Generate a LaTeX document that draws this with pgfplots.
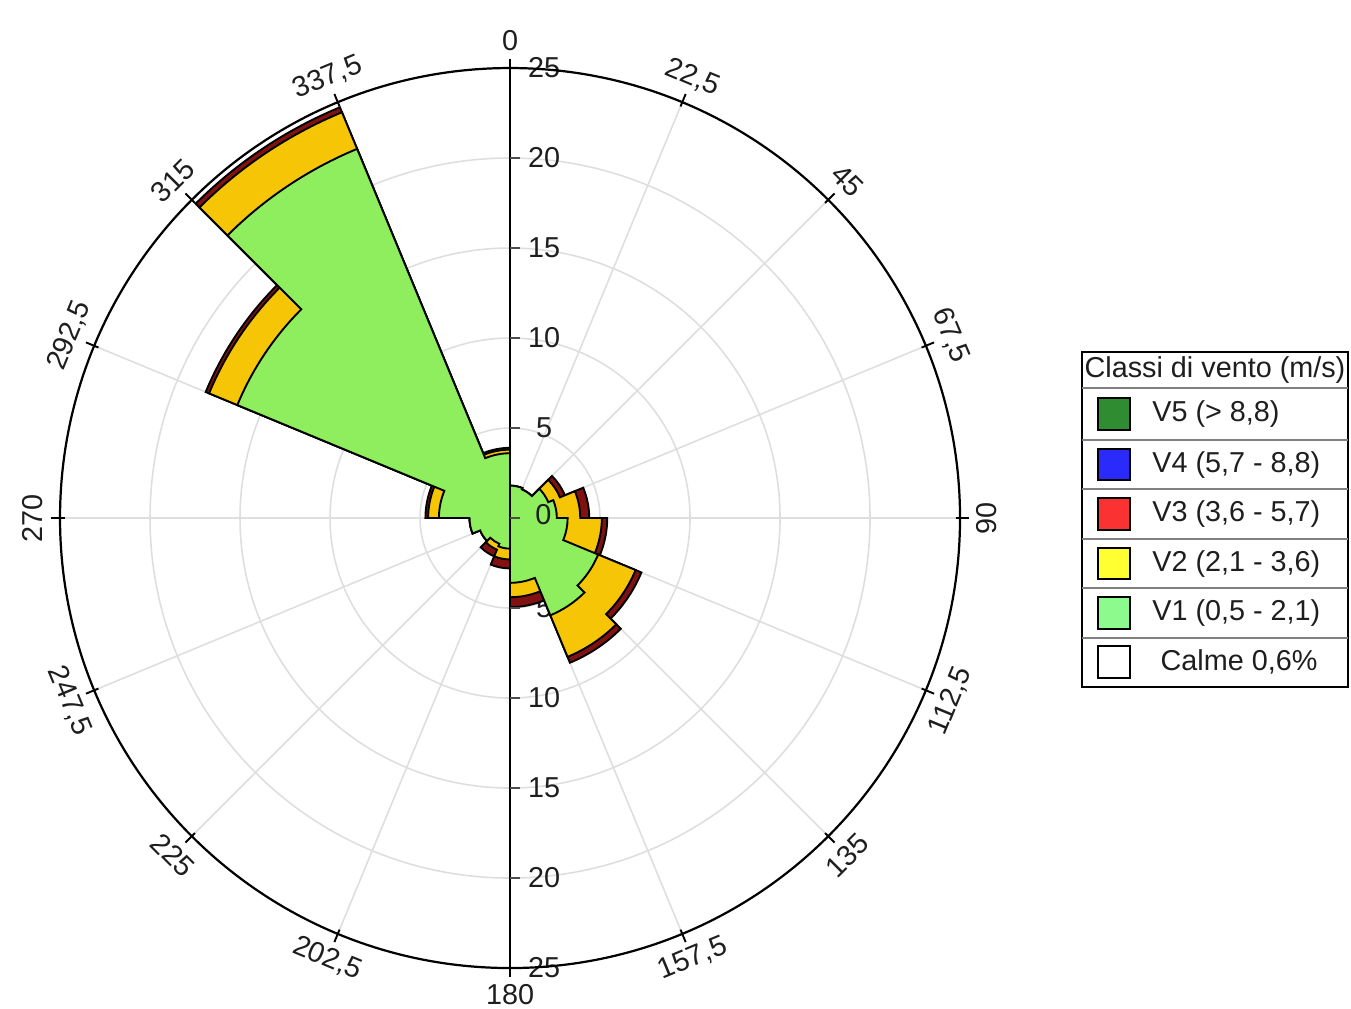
\documentclass[border=0pt]{standalone}
\usepackage{pgfplots}
\usepackage{pgfplotstable}
\pgfplotsset{compat=1.18}
\usepackage{fontspec}
\setmainfont{Liberation Sans}

% colours of the sectors
\definecolor{vone}{RGB}{143,238,94}
\definecolor{vtwo}{RGB}{246,198,6}
\definecolor{vthree}{RGB}{130,18,18}
% colours of the legend swatches
\definecolor{lgfive}{RGB}{48,140,48}
\definecolor{lgfour}{RGB}{42,42,250}
\definecolor{lgthree}{RGB}{250,50,50}
\definecolor{lgtwo}{RGB}{255,255,50}
\definecolor{lgone}{RGB}{140,250,140}
\definecolor{gridc}{RGB}{222,222,222}
\definecolor{txt}{RGB}{30,30,30}

% frequency (%) of each wind class, sector [dir, dir+22.5)
\pgfplotstableread{
dir    v1     v2    v3
0      1.80   0.00  0.00
22.5   1.72   0.00  0.00
45     2.30   0.70  0.30
67.5   2.60   1.30  0.50
90     3.20   1.90  0.30
112.5  5.30   2.25  0.35
135    5.85   2.50  0.35
157.5  3.60   0.80  0.55
180    1.70   0.60  0.50
202.5  1.55   0.35  0.40
225    1.80   0.00  0.00
247.5  2.25   0.00  0.00
270    3.95   0.60  0.15
292.5  16.40  1.70  0.20
315    22.20  2.20  0.30
337.5  3.60   0.20  0.10
}\windrose

% staircase outlines of the cumulative classes (axis units, 1 unit = 0.2cm)
\pgfplotstablegetrowsof{\windrose}
\pgfmathtruncatemacro\lastrow{\pgfplotsretval-1}
\gdef\pathA{}\gdef\pathB{}\gdef\pathC{}
\foreach \i in {0,...,\lastrow}{%
  \pgfplotstablegetelem{\i}{dir}\of\windrose \let\wdir\pgfplotsretval
  \pgfplotstablegetelem{\i}{v1}\of\windrose \let\wa\pgfplotsretval
  \pgfplotstablegetelem{\i}{v2}\of\windrose \let\wb\pgfplotsretval
  \pgfplotstablegetelem{\i}{v3}\of\windrose \let\wc\pgfplotsretval
  \pgfmathsetmacro\sa{90-\wdir}%
  \pgfmathsetmacro\ea{90-\wdir-22.5}%
  \pgfmathsetmacro\ra{\wa}%
  \pgfmathsetmacro\rb{\wa+\wb}%
  \pgfmathsetmacro\rc{\wa+\wb+\wc}%
  \pgfmathsetmacro\xa{\ra*cos(\sa)}\pgfmathsetmacro\ya{\ra*sin(\sa)}%
  \pgfmathsetmacro\xb{\rb*cos(\sa)}\pgfmathsetmacro\yb{\rb*sin(\sa)}%
  \pgfmathsetmacro\xc{\rc*cos(\sa)}\pgfmathsetmacro\yc{\rc*sin(\sa)}%
  \ifnum\i=0
    \xdef\pathA{(axis cs:\xa,\ya) arc[start angle=\sa, end angle=\ea, radius=\ra*0.2cm]}%
    \xdef\pathB{(axis cs:\xb,\yb) arc[start angle=\sa, end angle=\ea, radius=\rb*0.2cm]}%
    \xdef\pathC{(axis cs:\xc,\yc) arc[start angle=\sa, end angle=\ea, radius=\rc*0.2cm]}%
  \else
    \xdef\pathA{\pathA -- (axis cs:\xa,\ya) arc[start angle=\sa, end angle=\ea, radius=\ra*0.2cm]}%
    \xdef\pathB{\pathB -- (axis cs:\xb,\yb) arc[start angle=\sa, end angle=\ea, radius=\rb*0.2cm]}%
    \xdef\pathC{\pathC -- (axis cs:\xc,\yc) arc[start angle=\sa, end angle=\ea, radius=\rc*0.2cm]}%
  \fi
}

\begin{document}
\begin{tikzpicture}[font=\fontsize{9.1}{11}\selectfont]
% polar grid
\foreach \r in {1,2,3,4} \draw[gridc, line width=0.5pt] (0,0) circle[radius=\r cm];
\foreach \a in {0,22.5,...,337.5} \draw[gridc, line width=0.5pt] (0,0) -- ({90-\a}:5);
% radial scale labels
\foreach \v in {5,10,...,25} {
  \node[txt] at (0.38,\v/5) {\v};
  \node[txt] at (0.38,-\v/5) {\v};
}

\begin{axis}[at={(0,0)}, anchor=center, x=0.2cm, y=0.2cm,
  xmin=-25, xmax=25, ymin=-25, ymax=25, hide axis, clip=false]
  \filldraw[fill=vthree, draw=black, line width=0.6pt] \pathC -- cycle;
  \filldraw[fill=vtwo, draw=black, line width=0.6pt] \pathB -- cycle;
  \filldraw[fill=vone, draw=black, line width=0.6pt] \pathA -- cycle;
\end{axis}

% radial axis
\draw[black, line width=0.7pt] (0,-5) -- (0,5);
\foreach \v in {-5,...,5} \draw[black!70, line width=0.5pt] (0,\v) -- (0.11,\v);
\node[txt] at (0.37,0.04) {0};
% outer circle and direction ticks
\draw[black, line width=0.7pt] (0,0) circle[radius=5cm];
\foreach \a in {0,22.5,...,337.5} \draw[black, line width=0.6pt] ({90-\a}:4.95) -- ({90-\a}:5.1);
\foreach \a/\rot/\t in {0/0/0, 22.5/-22.5/{22,5}, 45/-45/45, 67.5/-67.5/{67,5},
    90/90/90, 112.5/67.5/{112,5}, 135/45/135, 157.5/22.5/{157,5},
    180/0/180, 202.5/-22.5/{202,5}, 225/-45/225, 247.5/-67.5/{247,5},
    270/90/270, 292.5/67.5/{292,5}, 315/45/315, 337.5/22.5/{337,5}}
  \node[txt, rotate=\rot] at ({90-\a}:5.3) {\t};

% legend
\draw[black, line width=0.6pt, fill=white] (6.352,-1.874) rectangle (9.314,1.848);
\foreach \y in {1.441,0.867,0.322,-0.233,-0.781,-1.330}
  \draw[black!50, line width=0.6pt] (6.352,\y) -- (9.314,\y);
\node[txt] at (7.833,1.644) {Classi di vento (m/s)};
\foreach \y/\c/\t in {1.156/lgfive/{V5 (> 8,8)}, 0.594/lgfour/{V4 (5,7 - 8,8)},
    0.044/lgthree/{V3 (3,6 - 5,7)}, -0.506/lgtwo/{V2 (2,1 - 3,6)},
    -1.056/lgone/{V1 (0,5 - 2,1)}}{
  \draw[black, line width=0.6pt, fill=\c] (6.537,\y-0.176) rectangle (6.889,\y+0.176);
  \node[txt, anchor=west, inner sep=0pt] at (7.13,\y) {\t};
}
\draw[black, line width=0.6pt, fill=white] (6.537,-1.776) rectangle (6.889,-1.424);
\node[txt, anchor=west, inner sep=0pt] at (7.222,-1.6) {Calme 0,6\%};

\pgfresetboundingbox
\path (-5.667,-5.444) rectangle (9.344,5.756);
\end{tikzpicture}
\end{document}
